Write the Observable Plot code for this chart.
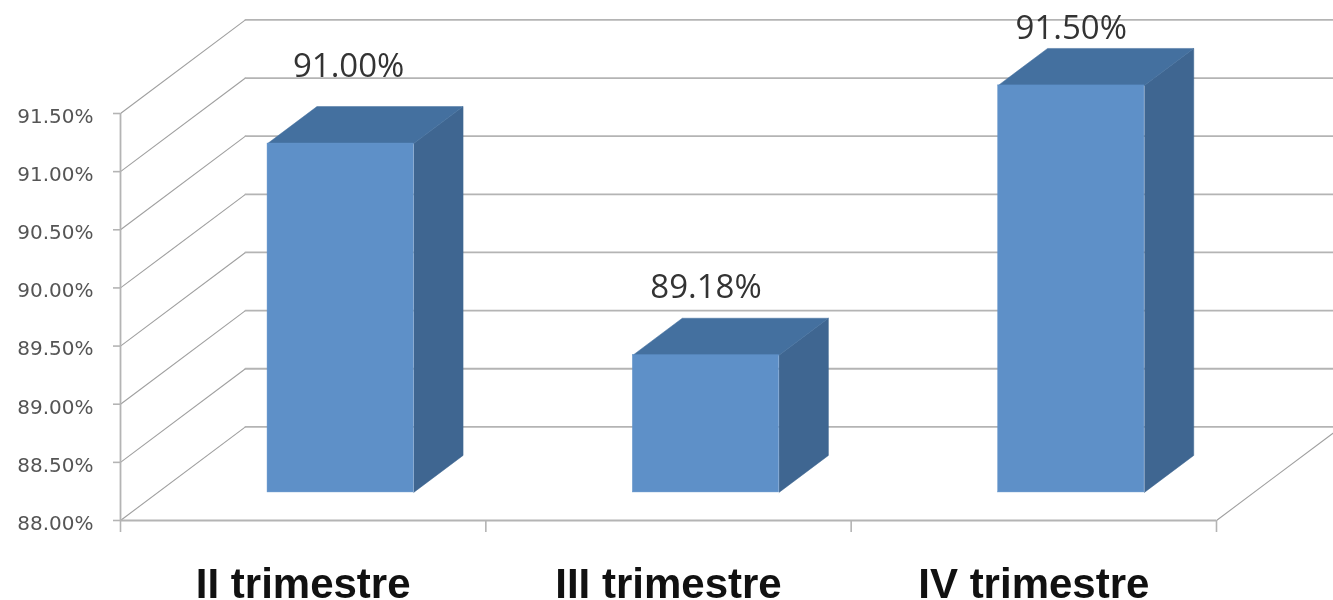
<!DOCTYPE html>
<html>
<head>
<meta charset="utf-8">
<script src="https://cdn.jsdelivr.net/npm/d3@7"></script>
<script src="https://cdn.jsdelivr.net/npm/@observablehq/plot@0.6"></script>
<style>
html,body{margin:0;padding:0;background:#fff;overflow:hidden}
svg{display:block;filter:blur(0.7px)}
</style>
</head>
<body>
<div id="chart"></div>
<script>
const categories = ["II trimestre", "III trimestre", "IV trimestre"];
const values = [91.0, 89.18, 91.5];
const valueLabels = ["91.00%", "89.18%", "91.50%"];
const yTicks = [88, 88.5, 89, 89.5, 90, 90.5, 91, 91.5];

// oblique projection of the chart's depth axis, in x-category and y-value units
const depthX = 0.342;
const depthY = 0.805;
const barNear = 0.3, barFar = 0.695, barWidth = 0.4;
const labelDy = [-30, -20, -9];
const labelDx = [8, 0, 0];

const px = (x, z) => x + z * depthX;
const py = (y, z) => y + z * depthY;

const bars = categories.map((c, i) => {
  const x0 = i + 0.5 - barWidth / 2, x1 = i + 0.5 + barWidth / 2;
  return {c, i, v: values[i], label: valueLabels[i], x0, x1};
});
const face = (name, pts) => pts.map(([x, y, z]) => ({face: name, x: px(x, z), y: py(y, z)}));
const sides = bars.flatMap(b => face("s" + b.i, [
  [b.x1, 88, barNear], [b.x1, 88, barFar], [b.x1, b.v, barFar], [b.x1, b.v, barNear]
]));
const tops = bars.flatMap(b => face("t" + b.i, [
  [b.x0, b.v, barNear], [b.x0, b.v, barFar], [b.x1, b.v, barFar], [b.x1, b.v, barNear]
]));
const diagonals = yTicks.flatMap(t => face("d" + t, [[0, t, 0], [0, t, 1]]))
  .concat(face("floor", [[3, 88, 0], [3, 88, 1]]));
const backLines = yTicks.flatMap(t => face("b" + t, [[0, t, 1], [3, t, 1]]));
const gridColor = "#b4b4b4";

const chart = Plot.plot({
  width: 1333,
  height: 600,
  marginLeft: 120,
  marginRight: 117,
  marginTop: 113,
  marginBottom: 80,
  style: {background: "#fff", overflow: "hidden"},
  x: {domain: [0, 3], axis: null},
  y: {domain: [88, 91.5], axis: null},
  marks: [
    Plot.line(diagonals, {x: "x", y: "y", z: "face", stroke: "#a0a0a0", strokeWidth: 1.1}),
    Plot.line(backLines, {x: "x", y: "y", z: "face", stroke: gridColor, strokeWidth: 1.8}),
    Plot.axisY({ticks: yTicks, tickSize: 7, tickFormat: () => "", stroke: gridColor, label: null, strokeWidth: 1.6}),
    Plot.axisY({ticks: yTicks, tickSize: 0, tickPadding: 27, dy: 3, tickFormat: d => d.toFixed(2) + "%",
      fill: "#555", fontSize: 20, fontFamily: "DejaVu Sans", label: null}),
    Plot.axisX({ticks: [0, 1, 2, 3], tickSize: 12, tickFormat: () => "", stroke: gridColor, label: null, strokeWidth: 1.6}),
    Plot.ruleX([0], {y1: 88, y2: 91.5, stroke: gridColor, strokeWidth: 1.8}),
    Plot.ruleY([88], {x1: 0, x2: 3, stroke: gridColor, strokeWidth: 1.8}),
    Plot.line(sides, {x: "x", y: "y", z: "face", fill: "#3f6691", stroke: "#3f6691", strokeWidth: 0.5}),
    Plot.line(tops, {x: "x", y: "y", z: "face", fill: "#44709f", stroke: "#44709f", strokeWidth: 0.5}),
    Plot.rect(bars, {
      x1: b => px(b.x0, barNear), x2: b => px(b.x1, barNear),
      y1: () => py(88, barNear), y2: b => py(b.v, barNear),
      fill: "#5e90c8", stroke: "#5e90c8", strokeWidth: 0.5
    }),
    ...bars.map((b, i) => Plot.text([b], {
      x: d => px(d.x0 + barWidth / 2, barNear),
      y: d => py(d.v, barFar),
      text: "label",
      dx: labelDx[i],
      dy: labelDy[i],
      lineAnchor: "bottom",
      fontSize: 33,
      fontFamily: "Open Sans",
      fill: "#333"
    })),
    Plot.text(bars, {
      x: d => d.i + 0.5,
      y: () => 88,
      text: "c",
      dy: 77,
      lineAnchor: "bottom",
      fontSize: 42,
      fontWeight: "bold",
      fontFamily: "Liberation Sans",
      fill: "#111"
    })
  ]
});
document.getElementById("chart").appendChild(chart);
</script>
</body>
</html>
